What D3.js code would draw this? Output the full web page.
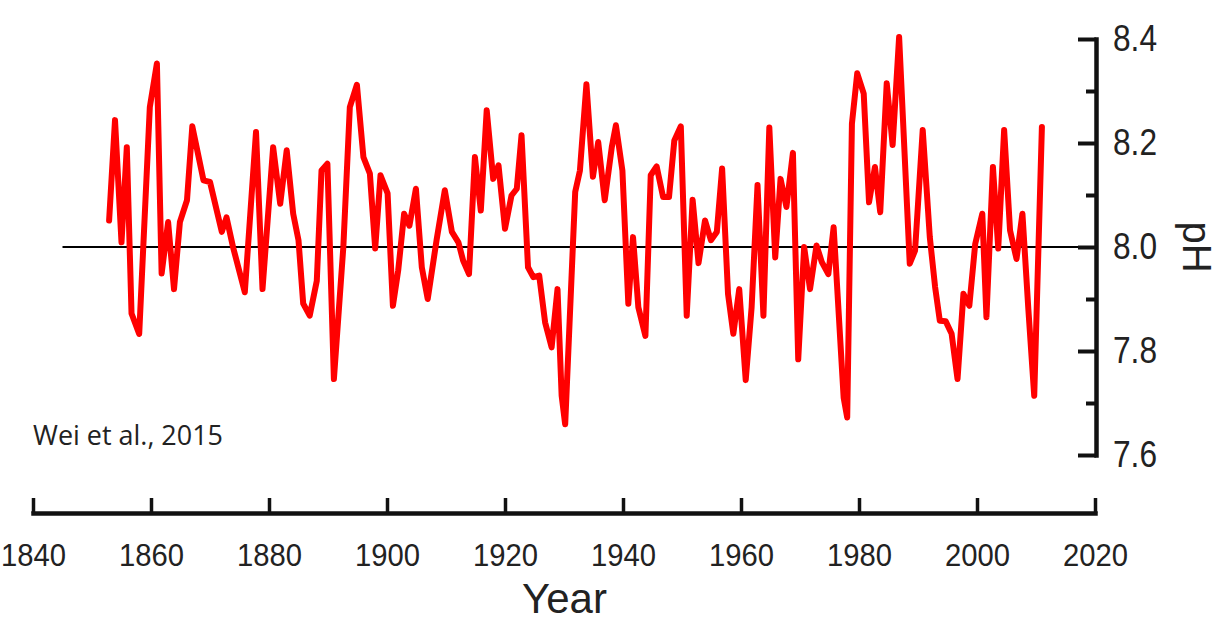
<!DOCTYPE html>
<html>
<head>
<meta charset="utf-8">
<script src="https://cdn.jsdelivr.net/npm/d3@7"></script>
<style>
  body { margin: 0; background: #fff; }
  svg text { font-family: "Liberation Sans", Arial, sans-serif; fill: #222; }
  .axis path, .axis line { stroke: #111; }
</style>
</head>
<body>
<svg id="phChart" width="1218" height="625"></svg>
<script>
const years = [
  1852.9, 1853.9, 1855.0, 1855.9, 1856.7, 1858.0, 1859.8, 1861.0, 1861.8, 1862.9,
  1863.9, 1864.9, 1866.1, 1867.0, 1868.9, 1870.0, 1872.0, 1872.8, 1873.9, 1875.9,
  1877.8, 1878.9, 1880.7, 1881.9, 1883.0, 1884.1, 1885.0, 1885.8, 1886.9, 1888.1,
  1888.9, 1889.9, 1891.0, 1892.6, 1893.7, 1894.9, 1896.0, 1897.1, 1898.0, 1898.9,
  1900.1, 1901.0, 1901.9, 1902.9, 1903.8, 1904.9, 1905.9, 1906.9, 1908.4, 1909.8,
  1911.0, 1912.1, 1912.9, 1913.9, 1914.9, 1915.9, 1916.9, 1918.0, 1918.9, 1920.0,
  1921.1, 1922.0, 1922.8, 1923.9, 1924.8, 1925.8, 1926.8, 1927.9, 1928.9, 1929.6,
  1930.2, 1931.9, 1932.7, 1933.8, 1934.9, 1935.8, 1936.9, 1938.1, 1938.8, 1939.9,
  1940.9, 1941.7, 1942.6, 1943.8, 1944.7, 1945.7, 1946.8, 1947.8, 1948.7, 1949.8,
  1950.8, 1951.8, 1952.8, 1953.9, 1954.9, 1955.9, 1956.8, 1957.8, 1958.7, 1959.7,
  1960.8, 1961.8, 1962.8, 1963.8, 1964.8, 1965.8, 1966.7, 1967.7, 1968.8, 1969.7,
  1970.7, 1971.7, 1972.8, 1973.7, 1974.8, 1975.7, 1977.4, 1978.0, 1978.8, 1979.7,
  1980.8, 1981.7, 1982.7, 1983.6, 1984.7, 1985.7, 1986.8, 1988.6, 1989.5, 1990.8,
  1992.0, 1992.9, 1993.7, 1994.7, 1995.7, 1996.7, 1997.7, 1998.7, 1999.7, 2000.9,
  2001.6, 2002.7, 2003.6, 2004.6, 2005.6, 2006.7, 2007.7, 2008.7, 2009.7, 2011.0
];
const phValues = [
  8.051, 8.244, 8.009, 8.192, 7.872, 7.833, 8.269, 8.353, 7.949, 8.048,
  7.919, 8.048, 8.090, 8.232, 8.128, 8.125, 8.029, 8.057, 8.000, 7.913,
  8.221, 7.919, 8.192, 8.083, 8.186, 8.064, 8.013, 7.891, 7.868, 7.935,
  8.147, 8.160, 7.746, 8.000, 8.269, 8.312, 8.173, 8.141, 7.997, 8.138,
  8.103, 7.887, 7.955, 8.064, 8.041, 8.112, 7.961, 7.900, 8.013, 8.109,
  8.029, 8.009, 7.974, 7.948, 8.173, 8.070, 8.263, 8.131, 8.157, 8.035,
  8.099, 8.112, 8.215, 7.961, 7.942, 7.945, 7.855, 7.807, 7.919, 7.714,
  7.659, 8.106, 8.147, 8.313, 8.135, 8.202, 8.090, 8.192, 8.234, 8.147,
  7.891, 8.019, 7.884, 7.829, 8.138, 8.155, 8.096, 8.096, 8.205, 8.232,
  7.868, 8.091, 7.969, 8.051, 8.013, 8.029, 8.151, 7.910, 7.833, 7.919,
  7.744, 7.884, 8.119, 7.868, 8.230, 7.980, 8.131, 8.077, 8.181, 7.784,
  8.000, 7.919, 8.003, 7.971, 7.948, 8.038, 7.710, 7.672, 8.237, 8.334,
  8.295, 8.086, 8.154, 8.067, 8.315, 8.196, 8.404, 7.968, 7.993, 8.225,
  8.019, 7.923, 7.858, 7.857, 7.833, 7.746, 7.910, 7.887, 8.006, 8.064,
  7.865, 8.154, 7.997, 8.225, 8.032, 7.977, 8.064, 7.881, 7.714, 8.231
];
const xTicks = [1840, 1860, 1880, 1900, 1920, 1940, 1960, 1980, 2000, 2020];
const yTicks = [7.6, 7.8, 8.0, 8.2, 8.4];
const yMinorTicks = [7.7, 7.9, 8.1, 8.3];
const refLine = { value: 8.0, from: 1845, to: 2020 };

let svg = d3.select("#phChart");

// plot box (pixel frame of the axes)
const frame = { left: 33, right: 1096, top: 39, bottom: 455, axisY: 513 };

let xScale = d3.scaleLinear().domain([1840, 2020]).range([frame.left, frame.right - 1]);
let yScale = d3.scaleLinear().domain([7.6, 8.4]).range([frame.bottom, frame.top]);

// 8.0 reference line
svg.append("line")
  .attr("x1", xScale(refLine.from))
  .attr("x2", xScale(refLine.to))
  .attr("y1", yScale(refLine.value))
  .attr("y2", yScale(refLine.value))
  .attr("stroke", "#000")
  .attr("stroke-width", 1.8);

// pH series
let series = years.map((yr, i) => ({ year: yr, ph: phValues[i] }));
let line = d3.line()
  .x((d) => xScale(d.year))
  .y((d) => yScale(d.ph));
svg.append("path")
  .datum(series)
  .attr("d", line)
  .attr("fill", "none")
  .attr("stroke", "#ff0000")
  .attr("stroke-width", 6)
  .attr("stroke-linejoin", "round")
  .attr("stroke-linecap", "round");

// right axis, ticks pointing inward
let rightMinor = d3.axisRight(yScale)
  .tickValues(yMinorTicks)
  .tickSizeInner(-10)
  .tickSizeOuter(0)
  .tickFormat("");
svg.append("g")
  .attr("class", "axis")
  .attr("transform", `translate(${frame.right}, 0)`)
  .call(rightMinor)
  .call((g) => g.select(".domain").remove())
  .selectAll("line").attr("stroke-width", 4);

let rightAxis = d3.axisRight(yScale)
  .tickValues(yTicks)
  .tickSizeInner(-18)
  .tickSizeOuter(0)
  .tickPadding(17)
  .tickFormat(d3.format(".1f"));
let rAx = svg.append("g")
  .attr("class", "axis")
  .attr("transform", `translate(${frame.right}, 0)`)
  .call(rightAxis);
rAx.select(".domain").attr("stroke-width", 4.5).attr("stroke-linecap", "square");
rAx.selectAll("line").attr("stroke-width", 4);
rAx.selectAll("text")
  .attr("font-size", 37)
  .attr("textLength", 44)
  .attr("lengthAdjust", "spacingAndGlyphs")
  .attr("fill", "#222");

// bottom axis
let bottomAxis = d3.axisBottom(xScale)
  .tickValues(xTicks)
  .tickSizeInner(-15)
  .tickSizeOuter(0)
  .tickPadding(30)
  .tickFormat(d3.format("d"));
let bAx = svg.append("g")
  .attr("class", "axis")
  .attr("transform", `translate(0, ${frame.axisY})`)
  .call(bottomAxis);
bAx.select(".domain").attr("stroke-width", 4.5).attr("stroke-linecap", "square");
bAx.selectAll("line").attr("stroke-width", 3.5);
bAx.selectAll("text")
  .attr("font-size", 32)
  .attr("textLength", 65)
  .attr("lengthAdjust", "spacingAndGlyphs")
  .attr("fill", "#222");

// axis titles
svg.append("text")
  .text("Year")
  .attr("x", (frame.left + frame.right) / 2)
  .attr("y", 613)
  .attr("text-anchor", "middle")
  .attr("font-size", 42);

svg.append("text")
  .text("pH")
  .attr("text-anchor", "middle")
  .attr("dominant-baseline", "central")
  .attr("font-size", 40)
  .attr("transform", `translate(1197, ${yScale(8.0)}) rotate(90)`);

// source note
svg.append("text")
  .text("Wei et al., 2015")
  .attr("x", 33)
  .attr("y", 445)
  .style("font-family", "'Open Sans', sans-serif")
  .attr("font-size", 27)
  .attr("textLength", 190)
  .attr("lengthAdjust", "spacingAndGlyphs");
</script>
</body>
</html>
